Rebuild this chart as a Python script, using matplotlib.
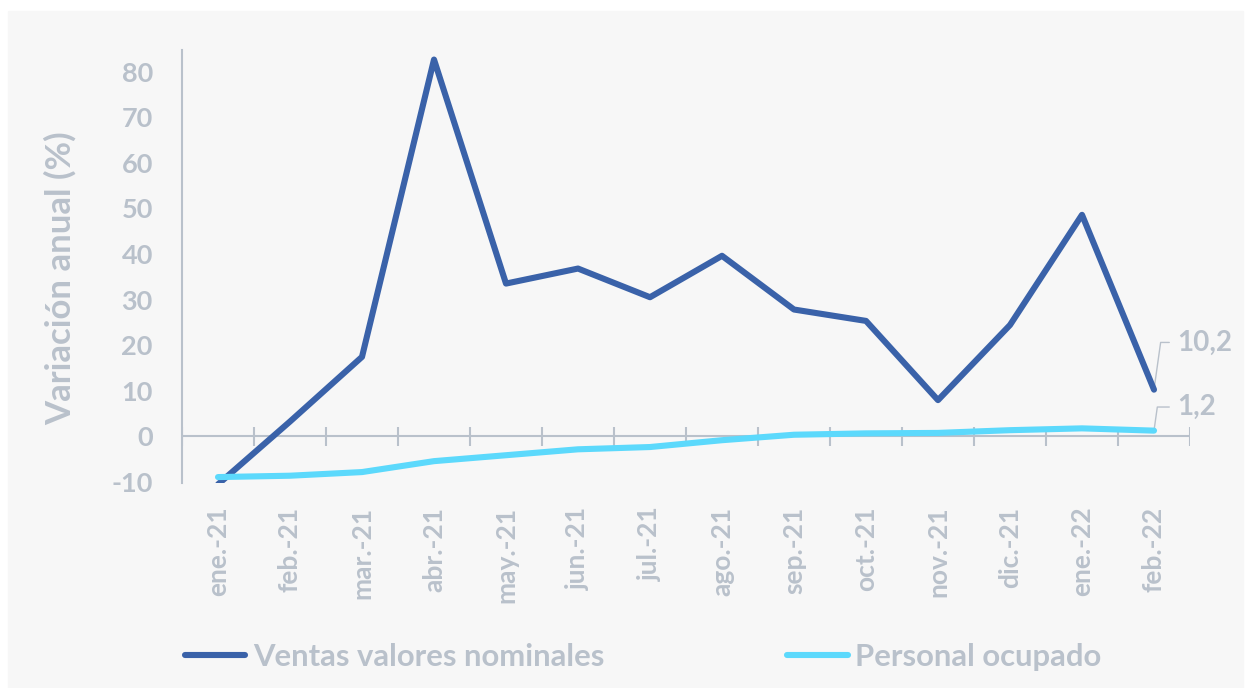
import numpy as np
import matplotlib as mpl
import matplotlib.pyplot as plt
from matplotlib.patches import Rectangle
from matplotlib.lines import Line2D

# ---------------- data ----------------
months = ["ene.-21", "feb.-21", "mar.-21", "abr.-21", "may.-21", "jun.-21", "jul.-21",
          "ago.-21", "sep.-21", "oct.-21", "nov.-21", "dic.-21", "ene.-22", "feb.-22"]
ventas = [-10.6, 3.2, 17.4, 82.7, 33.5, 36.8, 30.5, 39.6, 27.8, 25.3, 7.9, 24.4, 48.6, 10.2]
personal = [-9.0, -8.7, -7.9, -5.5, -4.2, -2.9, -2.4, -0.9, 0.3, 0.6, 0.7, 1.3, 1.7, 1.2]
yticks = [-10, 0, 10, 20, 30, 40, 50, 60, 70, 80]

# ---------------- style ----------------
mpl.rcParams.update({
    "font.family": ["Lato", "DejaVu Sans"],
    "font.weight": "bold",
})
GRAY = "#b9c1cb"
DARK = "#3a62a9"
CYAN = "#5cd9fc"

W, H = 1251, 688
fig = plt.figure(figsize=(W / 100, H / 100), dpi=100, facecolor="white")
fig.patches.append(Rectangle((8 / W, 0), (1243 - 8) / W, (H - 11) / H,
                             transform=fig.transFigure, color="#f7f7f7", zorder=-10))

ax = fig.add_axes([182 / W, (H - 483) / H, (1190 - 182) / W, (483 - 50) / H])
ax.set_facecolor("none")

x = np.arange(len(months))
ax.plot(x, ventas, color=DARK, lw=4.4, solid_capstyle="round", solid_joinstyle="round", zorder=4)
ax.plot(x, personal, color=CYAN, lw=4.4, solid_capstyle="round", solid_joinstyle="round", zorder=5)

ax.set_xlim(-0.5, len(months) - 0.5)
ax.set_ylim(-10.3, 84.8)

# zero line with category boundary ticks
ax.axhline(0, color=GRAY, lw=1.5, zorder=2)
bounds = np.arange(len(months) + 1) - 0.5
ax.vlines(bounds, -2.2, 2.0, color=GRAY, lw=1.5, zorder=2)

for s in ["top", "right", "bottom"]:
    ax.spines[s].set_visible(False)
ax.spines["left"].set_color(GRAY)
ax.spines["left"].set_linewidth(1.5)

ax.set_yticks(yticks)
ax.set_yticklabels([str(v) for v in yticks])
ax.tick_params(axis="y", length=0, pad=21, labelsize=19.5, labelcolor=GRAY)
ax.set_xticks(x)
ax.set_xticklabels(months, rotation=90)
ax.tick_params(axis="x", length=0, pad=17, labelsize=19, labelcolor=GRAY)

ax.set_ylabel("Variación anual (%)", fontsize=25, color=GRAY, fontweight="bold")
ax.yaxis.set_label_coords(-0.104, 0.474)

# end labels
for series, dy in [(ventas, 34), (personal, 17)]:
    ax.annotate(f"{series[-1]:.1f}".replace(".", ","),
                xy=(x[-1], series[-1]), xytext=(17, dy), textcoords="offset points",
                fontsize=20, color=GRAY, fontweight="bold", ha="left", va="center",
                arrowprops=dict(arrowstyle="-", color=GRAY, lw=1.0,
                                shrinkA=4, shrinkB=1, relpos=(0, 0.5),
                                connectionstyle="angle,angleA=0,angleB=82,rad=0"))

# legend
handles = [Line2D([], [], color=DARK, lw=4.4, solid_capstyle="round"),
           Line2D([], [], color=CYAN, lw=4.4, solid_capstyle="round")]
fig.legend(handles, ["Ventas valores nominales", "Personal ocupado"],
           loc="center left", bbox_to_anchor=(185 / W, 1 - 657 / H),
           ncol=2, frameon=False, labelcolor=GRAY,
           handlelength=1.95, handletextpad=0.25, columnspacing=5.9,
           borderpad=0, borderaxespad=0, prop={"weight": "bold", "size": 22.3})

fig.savefig("out.png", dpi=100, facecolor="white")
